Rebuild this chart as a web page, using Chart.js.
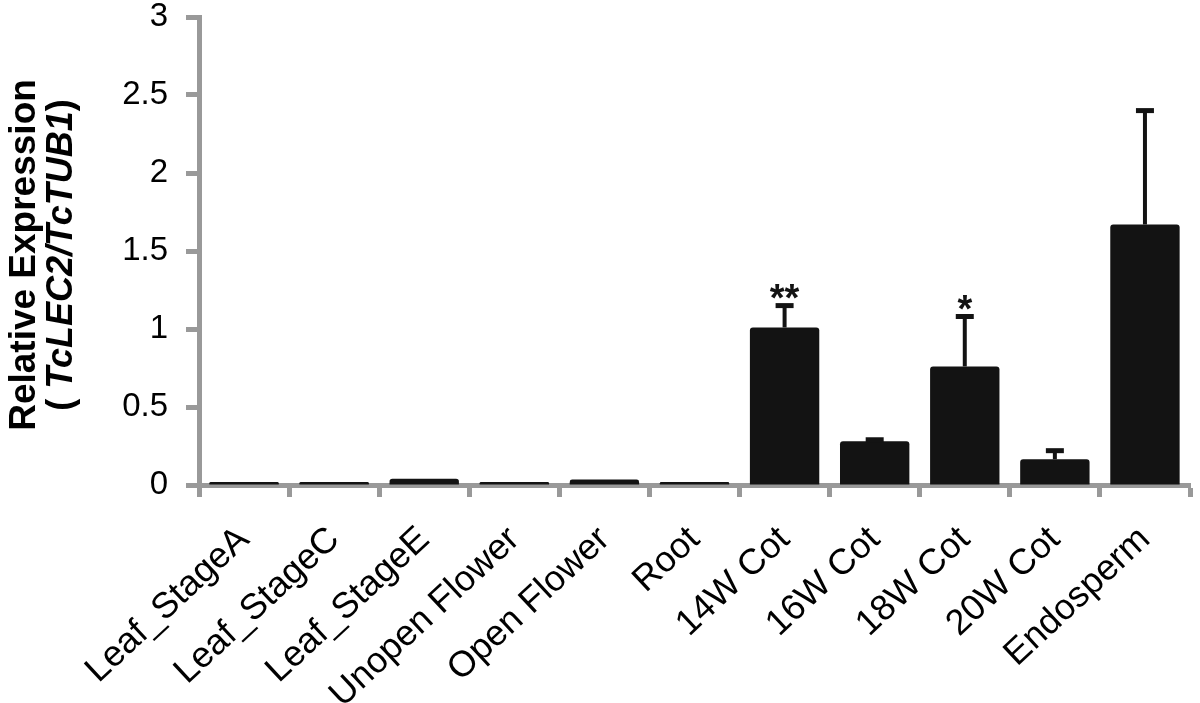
<!DOCTYPE html>
<html>
<head>
<meta charset="utf-8">
<script src="https://cdn.jsdelivr.net/npm/chart.js@4"></script>
<style>
    html, body { margin: 0; padding: 0; background: #fff; }
    #contenedor { width: 1200px; height: 703px; }
</style>
</head>
<body>
<div id="contenedor"><canvas id="graficaExpresion"></canvas></div>
<script>
// datos
const categorias = ['Leaf_StageA', 'Leaf_StageC', 'Leaf_StageE', 'Unopen Flower', 'Open Flower',
    'Root', '14W Cot', '16W Cot', '18W Cot', '20W Cot', 'Endosperm'];
const valores = [0.02, 0.02, 0.04, 0.02, 0.035, 0.02, 1.01, 0.28, 0.76, 0.165, 1.67];
const errores = [0, 0, 0, 0, 0, 0, 0.14, 0.01, 0.32, 0.055, 0.73];
const significancia = ['', '', '', '', '', '', '**', '', '*', '', ''];
const ticksY = ['0', '0.5', '1', '1.5', '2', '2.5', '3'];

const GRIS = '#999999';
const NEGRO = '#131313';
const FUENTE = '"Liberation Sans", Arial, Helvetica, sans-serif';

// barras de error y asteriscos
const barrasError = {
    id: 'barrasError',
    afterDatasetsDraw(chart) {
        const ctx = chart.ctx;
        const escalaY = chart.scales.y;
        const meta = chart.getDatasetMeta(0);
        ctx.save();
        ctx.strokeStyle = NEGRO;
        ctx.fillStyle = NEGRO;
        meta.data.forEach((barra, i) => {
            if (!errores[i]) return;
            const yTope = escalaY.getPixelForValue(valores[i] + errores[i]);
            ctx.lineWidth = 4;
            ctx.beginPath();
            ctx.moveTo(barra.x, barra.y);
            ctx.lineTo(barra.x, yTope);
            ctx.stroke();
            ctx.lineWidth = 5;
            ctx.beginPath();
            ctx.moveTo(barra.x - 9, yTope);
            ctx.lineTo(barra.x + 9, yTope);
            ctx.stroke();
            if (significancia[i]) {
                ctx.font = 'bold 38px ' + FUENTE;
                ctx.textAlign = 'center';
                ctx.textBaseline = 'alphabetic';
                ctx.fillText(significancia[i], barra.x, yTope + 5);
            }
        });
        ctx.restore();
    }
};

// titulo del eje Y, con la parte en cursiva
const tituloY = {
    id: 'tituloY',
    afterDraw(chart) {
        const ctx = chart.ctx;
        const cy = 255;
        ctx.save();
        ctx.fillStyle = '#000';
        ctx.textBaseline = 'middle';
        ctx.translate(25, cy);
        ctx.rotate(-Math.PI / 2);
        ctx.font = 'bold 37px ' + FUENTE;
        ctx.textAlign = 'center';
        ctx.fillText('Relative Expression', 0, 0);
        ctx.restore();

        const partes = [
            ['( ', 'bold 36px ' + FUENTE],
            ['TcLEC2/TcTUB1', 'italic bold 36px ' + FUENTE],
            [')', 'bold 36px ' + FUENTE]
        ];
        let total = 0;
        partes.forEach(p => { ctx.font = p[1]; total += ctx.measureText(p[0]).width; });
        ctx.save();
        ctx.fillStyle = '#000';
        ctx.textBaseline = 'middle';
        ctx.textAlign = 'left';
        ctx.translate(62, cy);
        ctx.rotate(-Math.PI / 2);
        let x = -total / 2;
        partes.forEach(p => {
            ctx.font = p[1];
            ctx.fillText(p[0], x, 0);
            x += ctx.measureText(p[0]).width;
        });
        ctx.restore();
    }
};

const grafica = new Chart(document.getElementById('graficaExpresion'), {
    type: 'bar',
    data: {
        labels: categorias,
        datasets: [{
            data: valores,
            backgroundColor: NEGRO,
            borderWidth: 0,
            borderRadius: 3,
            borderSkipped: 'bottom',
            categoryPercentage: 1.0,
            barPercentage: 0.77
        }]
    },
    options: {
        responsive: true,
        maintainAspectRatio: false,
        animation: false,
        layout: {
            padding: { top: 17, right: 10, left: 0, bottom: 0 }
        },
        scales: {
            x: {
                z: 1,
                grid: {
                    offset: true,
                    drawOnChartArea: false,
                    drawTicks: true,
                    tickLength: 12,
                    tickWidth: 5,
                    tickColor: GRIS
                },
                border: { display: true, color: GRIS, width: 5 },
                ticks: {
                    color: '#000',
                    font: { family: FUENTE, size: 36, lineHeight: 1 },
                    minRotation: 43,
                    maxRotation: 43,
                    autoSkip: false,
                    padding: 24
                },
                afterFit(escala) {
                    escala.height = 703 - 485;
                }
            },
            y: {
                min: 0,
                max: 3,
                ticks: {
                    stepSize: 0.5,
                    color: '#000',
                    font: { family: FUENTE, size: 33, lineHeight: 1 },
                    padding: 18,
                    callback: (v, i) => ticksY[i]
                },
                grid: {
                    drawOnChartArea: false,
                    drawTicks: true,
                    tickLength: 13,
                    tickWidth: 5,
                    tickColor: GRIS
                },
                border: { display: true, color: GRIS, width: 5 },
                afterFit(escala) {
                    escala.width = 199;
                    escala.paddingTop = 0;
                    escala.paddingBottom = 0;
                }
            }
        },
        plugins: {
            legend: { display: false },
            tooltip: { enabled: false }
        }
    },
    plugins: [barrasError, tituloY]
});
</script>
</body>
</html>
